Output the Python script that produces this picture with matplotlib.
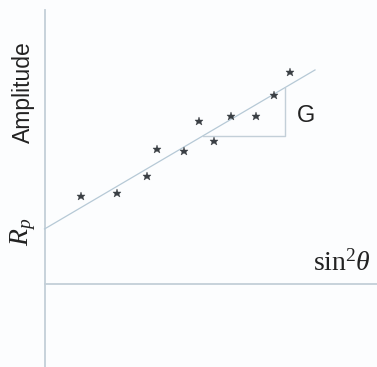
import matplotlib.pyplot as plt

plt.rcParams['mathtext.fontset'] = 'custom'
plt.rcParams['mathtext.rm'] = 'Liberation Serif'
plt.rcParams['mathtext.it'] = 'Liberation Serif:italic'

# measurements (origin at the crossing of the axes)
x_pts = [36.8, 72.5, 102.2, 112.8, 139.8, 154.8, 169.2, 186.2, 211.2, 229.5, 245.8]
y_pts = [87.7, 91.0, 107.7, 134.4, 133.0, 163.0, 143.0, 167.7, 167.7, 188.4, 212.0]

# fitted line: intercept Rp and gradient G
rp = 54.7
g = 0.588
x_end = 270.5

# gradient triangle
tri_x0 = 158.7
tri_x1 = 240.5

fig = plt.figure(figsize=(3.77, 3.67), dpi=100, facecolor='#fcfdfe')
ax = fig.add_axes([0, 0, 1, 1])
ax.set_facecolor('#fcfdfe')
ax.set_xlim(-44.5, 332.5)
ax.set_ylim(-83.3, 283.7)
ax.axis('off')

axis_col = '#c3cfd8'
line_col = '#b6c9d6'

# axes
ax.plot([0, 0], [-83.3, 273.7], color=axis_col, lw=1.3)
ax.plot([0, 332.5], [0, 0], color=axis_col, lw=1.3)

# fitted line
ax.plot([0, x_end], [rp, rp + g * x_end], color=line_col, lw=0.9)

# triangle
y_tri = rp + g * tri_x0
ax.plot([tri_x0, tri_x1, tri_x1], [y_tri, y_tri, rp + g * tri_x1], color=axis_col, lw=1.0)

# data points
ax.plot(x_pts, y_pts, linestyle='none', marker='*', markersize=6.3,
        color='#3a3f44', markeredgewidth=0.3)

# labels
ax.text(-21, 192, 'Amplitude', rotation=90, ha='center', va='center',
        fontsize=16.5, family='Liberation Sans', color='#222222')
ax.text(-21, 52, r'$R_p$', rotation=90, ha='center', va='center',
        fontsize=20, color='#222222')
ax.text(297, 21, r'$\mathrm{sin}^2\theta$', ha='center', va='center',
        fontsize=20, color='#222222')
ax.text(262, 168, 'G', ha='center', va='center',
        fontsize=17, family='Liberation Sans', color='#222222')

fig.savefig('out.png', dpi=100, facecolor=fig.get_facecolor())
